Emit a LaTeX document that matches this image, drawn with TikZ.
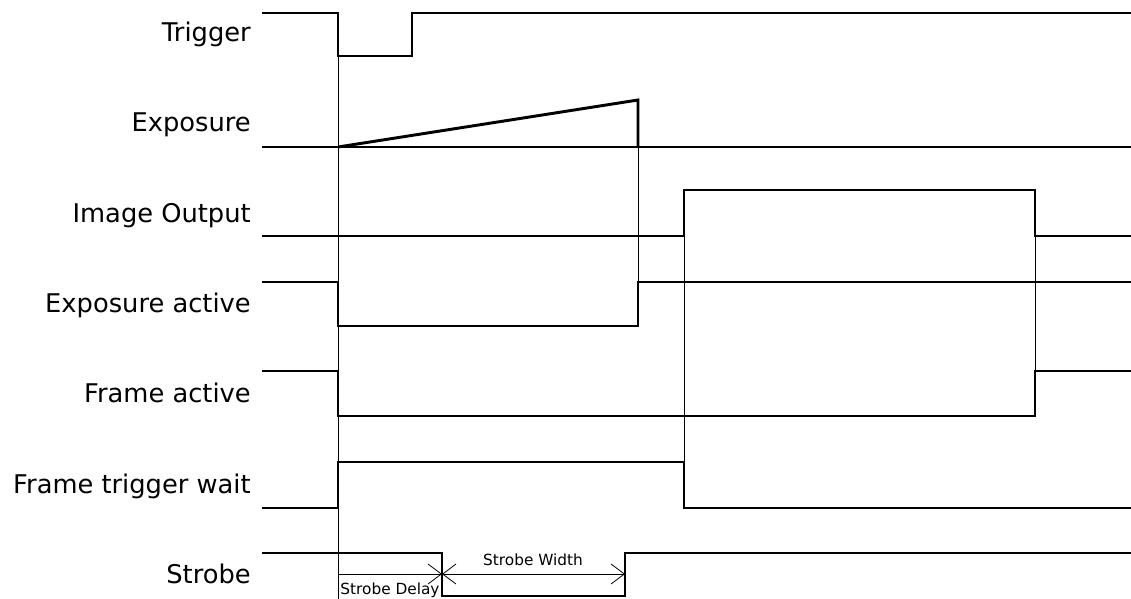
\documentclass[tikz,border=0pt]{standalone}
\usepackage{fontspec}
\setmainfont{DejaVu Sans}
\usetikzlibrary{arrows.meta}
\begin{document}
\begin{tikzpicture}[x=0.75pt,y=-0.75pt,
  sig/.style={line width=2.2pt},
  guide/.style={line width=0.7pt},
  lbl/.style={anchor=base east,inner sep=0pt,font=\fontsize{19.3}{22}\selectfont},
  dim/.style={line width=0.6pt},
  barb/.tip={Straight Barb[length=10pt,width=15pt,line width=0.6pt]},
  dimtxt/.style={anchor=base,inner sep=0pt,font=\fontsize{11.5}{13}\selectfont}]
\useasboundingbox (0,0) rectangle (1131,599);

% thin guide lines
\draw[guide] (338,56) -- (338,599);
\draw[guide] (638,147) -- (638,282);
\draw[guide] (684,190) -- (684,462);
\draw[guide] (1035,236) -- (1035,371);

% signals
\draw[sig] (262,13) -- (338,13) -- (338,56) -- (412,56) -- (412,13) -- (1131,13);
\draw[sig] (262,147) -- (1131,147);
\draw[sig] (338,147) -- (638,100) -- (638,147);
\draw[sig] (262,236) -- (684,236) -- (684,190) -- (1035,190) -- (1035,236) -- (1131,236);
\draw[sig] (262,282) -- (338,282) -- (338,326) -- (638,326) -- (638,282) -- (1131,282);
\draw[sig] (262,371) -- (338,371) -- (338,416) -- (1035,416) -- (1035,371) -- (1131,371);
\draw[sig] (262,508) -- (338,508) -- (338,462) -- (684,462) -- (684,508) -- (1131,508);
\draw[sig] (262,553) -- (442,553) -- (442,596) -- (625,596) -- (625,553) -- (1131,553);

% labels
\node[lbl] (trig) at (251,42) {Trigger};
\node[lbl] (expo) at (251,132) {Exposure};
\node[lbl] (imgout) at (251,222) {Image Output};
\node[lbl] (expact) at (251,312) {Exposure active};
\node[lbl] (frmact) at (251,402) {Frame active};
\node[lbl] (frmwait) at (251,493) {Frame trigger wait};
\node[lbl] (strobe) at (251,583) {Strobe};

% strobe delay / width
\coordinate (sd0) at (338,574);
\coordinate (sw0) at (442,574);
\coordinate (sw1) at (625,574);
\draw[dim,-barb] (sd0) -- (sw0);
\draw[dim,barb-barb] (sw0) -- (sw1);
\node[dimtxt] (sdtxt) at (390,594) {Strobe Delay};
\node[dimtxt] (swtxt) at (533,565) {Strobe Width};
\end{tikzpicture}
\end{document}
